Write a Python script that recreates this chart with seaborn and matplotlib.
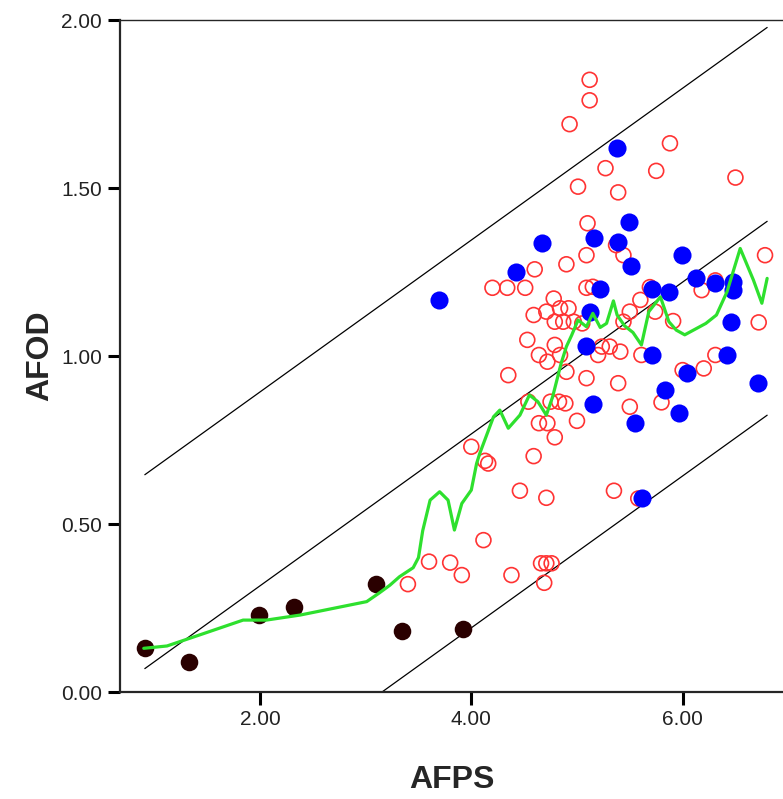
import numpy as np
import matplotlib
matplotlib.use("Agg")
import matplotlib.pyplot as plt
import seaborn as sns

# dark (low AFPS) group
dark_x = [0.91, 1.33, 1.99, 2.32, 3.10, 3.34, 3.92]
dark_y = [0.130, 0.090, 0.229, 0.252, 0.320, 0.181, 0.187]

# blue group
blue_x = [3.69, 4.42, 4.67, 5.38, 5.49, 5.16, 5.39, 5.51, 5.99, 5.22, 5.71,
          5.87, 6.13, 6.31, 6.48, 6.48, 6.46, 5.12, 5.09, 5.71, 6.42, 6.04,
          5.15, 5.83, 5.55, 5.97, 6.71, 5.62]
blue_y = [1.167, 1.251, 1.335, 1.620, 1.400, 1.350, 1.338, 1.268, 1.300, 1.200,
          1.198, 1.190, 1.232, 1.217, 1.220, 1.195, 1.100, 1.130, 1.030, 1.003,
          1.003, 0.948, 0.858, 0.898, 0.802, 0.830, 0.920, 0.578]

# red (hollow) group
red_x = [5.12, 5.12, 4.93, 5.88, 5.27, 5.75, 5.01, 5.39, 6.50,
         5.10, 5.09, 4.60, 4.90, 5.37, 5.44, 6.78,
         4.20, 4.34, 4.51, 5.09, 5.15, 4.78, 5.69, 6.18, 6.31,
         4.59, 4.71, 4.84, 4.92, 4.79, 4.87, 4.97, 5.05,
         5.60, 5.50, 5.44, 5.74, 5.91, 6.72,
         4.53, 4.79, 4.64, 4.72, 4.84,
         5.235, 5.31, 5.41, 5.20, 5.61, 6.31, 6.20, 6.00,
         4.35, 4.90, 5.09, 5.39, 4.54, 4.75, 4.83, 4.89, 5.50, 5.80, 5.00,
         4.64, 4.72, 4.79, 4.00, 4.59, 4.13, 4.16, 4.46, 4.71, 5.35, 5.58,
         4.115, 3.60, 3.80, 3.91, 3.40, 4.38, 4.66, 4.71, 4.76, 4.69]
red_y = [1.822, 1.761, 1.690, 1.633, 1.559, 1.551, 1.504, 1.487, 1.531,
         1.395, 1.300, 1.258, 1.273, 1.330, 1.300, 1.300,
         1.203, 1.203, 1.203, 1.203, 1.206, 1.171, 1.205, 1.196, 1.225,
         1.122, 1.132, 1.142, 1.142, 1.102, 1.102, 1.102, 1.097,
         1.167, 1.132, 1.102, 1.132, 1.104, 1.100,
         1.048, 1.033, 1.003, 0.983, 1.003,
         1.028, 1.028, 1.013, 1.003, 1.003, 1.003, 0.963, 0.958,
         0.943, 0.953, 0.934, 0.919, 0.864, 0.864, 0.864, 0.859, 0.849, 0.862, 0.807,
         0.800, 0.800, 0.758, 0.730, 0.702, 0.688, 0.680, 0.599, 0.578, 0.599, 0.576,
         0.452, 0.388, 0.385, 0.348, 0.321, 0.348, 0.383, 0.383, 0.383, 0.325]

# smoothed (loess-like) curve
smooth_x = [0.90, 1.12, 1.43, 1.84, 2.06, 2.38, 3.01, 3.13, 3.23, 3.32, 3.45,
            3.50, 3.54, 3.61, 3.70, 3.78, 3.84, 3.91, 4.00, 4.05, 4.08, 4.21,
            4.27, 4.35, 4.46, 4.55, 4.63, 4.71, 4.77, 4.85, 4.90, 4.95, 5.01,
            5.09, 5.15, 5.22, 5.28, 5.345, 5.38, 5.45, 5.53, 5.61, 5.68, 5.79,
            5.87, 5.94, 6.02, 6.12, 6.22, 6.32, 6.42, 6.545, 6.67, 6.75, 6.80]
smooth_y = [0.130, 0.137, 0.170, 0.214, 0.214, 0.229, 0.269, 0.295, 0.318, 0.343, 0.370,
            0.400, 0.480, 0.571, 0.596, 0.571, 0.482, 0.561, 0.601, 0.680, 0.710, 0.819,
            0.839, 0.785, 0.824, 0.884, 0.864, 0.824, 0.879, 0.978, 1.028, 1.062, 1.107,
            1.087, 1.127, 1.085, 1.097, 1.164, 1.122, 1.090, 1.070, 1.033, 1.132, 1.176,
            1.102, 1.077, 1.063, 1.080, 1.097, 1.122, 1.191, 1.320, 1.226, 1.157, 1.231]

# linear fit and prediction band
fit_intercept = -0.136
fit_slope = 0.226
band_offset = 0.577
fit_range = [0.91, 6.80]

sns.set_style("ticks")
plt.rcParams['font.family'] = ['Liberation Sans', 'DejaVu Sans']

fig = plt.figure(figsize=(7.83, 7.99), dpi=100)
ax = fig.add_axes([120/783, 107/799, 663/783, 672/799])

# fit line and band lines
lx = np.array(fit_range)
for off in [band_offset, 0.0, -band_offset]:
    sns.lineplot(x=lx, y=fit_intercept + fit_slope*lx + off, ax=ax,
                 color='black', linewidth=0.9, zorder=1)

sns.scatterplot(x=red_x, y=red_y, ax=ax, marker='o', s=115,
                facecolors='none', edgecolor='#ff3333', linewidth=1.2, zorder=2)
sns.scatterplot(x=dark_x, y=dark_y, ax=ax, marker='o', s=160,
                color='#2a0000', edgecolor='#2a0000', linewidth=0, zorder=3)
sns.scatterplot(x=blue_x, y=blue_y, ax=ax, marker='o', s=170,
                color='#0000ff', edgecolor='#0000ff', linewidth=0, zorder=3)

sns.lineplot(x=smooth_x, y=smooth_y, ax=ax, sort=False, estimator=None,
             color='#2ee02e', linewidth=2.3, zorder=4)

ax.set_xlim(0.675, 6.95)
ax.set_ylim(0, 2.0)
ax.set_xticks([2, 4, 6])
ax.set_xticklabels(['2.00', '4.00', '6.00'])
ax.set_yticks([0, 0.5, 1.0, 1.5, 2.0])
ax.set_yticklabels(['0.00', '0.50', '1.00', '1.50', '2.00'])
ax.tick_params(direction='out', length=9, width=2.2, labelsize=15,
               colors='black', labelcolor='#222222', pad=4)

ax.spines['right'].set_visible(False)
ax.spines['top'].set_linewidth(1.0)
ax.spines['left'].set_linewidth(1.6)
ax.spines['bottom'].set_linewidth(1.6)

ax.set_xlabel('AFPS', fontsize=23, fontweight='bold', labelpad=26)
ax.set_ylabel('AFOD', fontsize=23, fontweight='bold', labelpad=4)

fig.savefig('out.png', dpi=100)
